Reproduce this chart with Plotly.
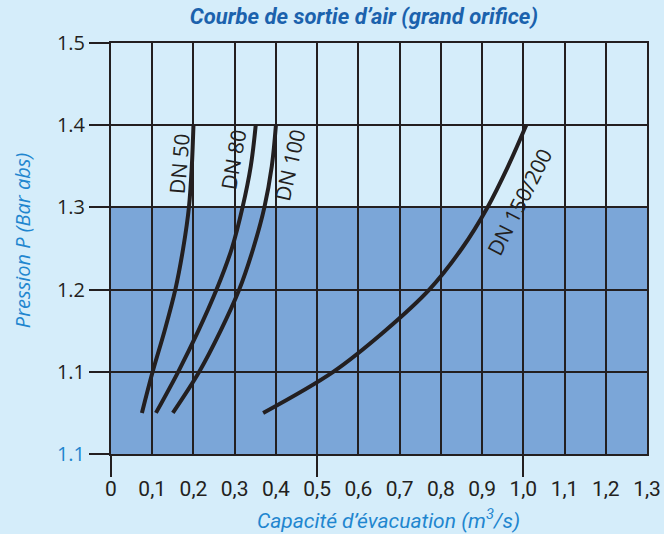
import plotly.graph_objects as go

# ---- data ----
x_ticks = [0, 0.1, 0.2, 0.3, 0.4, 0.5, 0.6, 0.7, 0.8, 0.9, 1.0, 1.1, 1.2, 1.3]
x_ticktext = ["0", "0,1", "0,2", "0,3", "0,4", "0,5", "0,6", "0,7", "0,8", "0,9", "1,0", "1,1", "1,2", "1,3"]
x_major = [0, 0.5, 1.0]
y_ticks = [1.0, 1.1, 1.2, 1.3, 1.4, 1.5]
y_ticktext = ['<span style="color:#1f86cf">1.1</span>', "1.1", "1.2", "1.3", "1.4", "1.5"]

shade_x = [0, 1.3]
shade_y = [1.0, 1.3]

curve_y = [1.05, 1.10, 1.15, 1.20, 1.25, 1.30, 1.35, 1.40]
dn50_x = [0.075, 0.101, 0.130, 0.156, 0.175, 0.189, 0.196, 0.200]
dn80_x = [0.109, 0.163, 0.212, 0.256, 0.293, 0.319, 0.339, 0.351]
dn100_x = [0.150, 0.214, 0.266, 0.311, 0.345, 0.372, 0.390, 0.400]
dn150_x = [0.369, 0.539, 0.665, 0.772, 0.851, 0.913, 0.963, 1.007]

labels = ["DN 50", "DN 80", "DN 100", "DN 150/200"]
label_x = [0.165, 0.296, 0.433, 0.990]
label_y = [1.353, 1.358, 1.352, 1.307]
label_angle = [-85, -80, -77, -63]

LINE = "#231f20"
BG = "#d5edfa"
SHADE = "#7ba6d8"
BLUE = "#1f86cf"

fig = go.Figure()
curves = [dn50_x, dn80_x, dn100_x, dn150_x]
for i, cx in enumerate(curves):
    fig.add_trace(go.Scatter(
        x=cx, y=curve_y, mode="lines",
        line=dict(color=LINE, width=4, shape="spline", smoothing=1.0),
        xaxis="x2" if i == 3 else "x",
        hoverinfo="skip", showlegend=False,
    ))

fig.add_shape(type="rect", xref="x", yref="y",
              x0=shade_x[0], x1=shade_x[1], y0=shade_y[0], y1=shade_y[1],
              fillcolor=SHADE, line=dict(width=0), layer="below")

for t, lx, ly, a in zip(labels, label_x, label_y, label_angle):
    fig.add_annotation(x=lx, y=ly, xref="x", yref="y", text=t, showarrow=False,
                       textangle=a, font=dict(family="Open Sans", size=21, color=LINE))

fig.add_annotation(xref="paper", yref="paper", x=0.517, y=-0.157,
                   xanchor="center", yanchor="middle",
                   text="<i>Capacité d’évacuation (m<sup>3</sup>/s)</i>", showarrow=False,
                   font=dict(family="Roboto", size=21, color=BLUE))
fig.add_annotation(xref="paper", yref="paper", x=-0.166, y=0.518,
                   xanchor="center", yanchor="middle",
                   text="<i>Pression P (Bar abs)</i>", showarrow=False, textangle=-90,
                   font=dict(family="Open Sans", size=20, color=BLUE))

fig.update_layout(
    width=664, height=534,
    margin=dict(l=111, r=17, t=43, b=80),
    paper_bgcolor=BG, plot_bgcolor=BG,
    title=dict(text="<b><i>Courbe de sortie d’air (grand orifice)</i></b>",
               x=0.548, xanchor="center", y=1 - 16 / 534, yanchor="middle",
               automargin=False,
               font=dict(family="Roboto", size=22, color="#1b62ad")),
    xaxis=dict(range=[0, 1.3], tickmode="array", tickvals=x_ticks, ticktext=x_ticktext,
               showgrid=True, gridcolor=LINE, gridwidth=2,
               showline=True, linecolor=LINE, linewidth=2, mirror=True,
               ticks="outside", ticklen=15, tickcolor="rgba(0,0,0,0)",
               tickfont=dict(family="Roboto", size=21, color=LINE),
               zeroline=False, fixedrange=True, automargin=False),
    xaxis2=dict(range=[0, 1.3], overlaying="x", matches="x", side="bottom",
                tickmode="array", tickvals=x_major, showticklabels=False,
                ticks="outside", ticklen=22, tickwidth=2, tickcolor=LINE,
                showgrid=False, zeroline=False, showline=False, automargin=False),
    yaxis=dict(range=[1.0, 1.5], tickmode="array", tickvals=y_ticks, ticktext=y_ticktext,
               showgrid=True, gridcolor=LINE, gridwidth=2,
               showline=True, linecolor=LINE, linewidth=2, mirror=True,
               ticks="outside", ticklen=20, tickwidth=2, tickcolor=LINE,
               tickfont=dict(family="Open Sans", size=20, color=LINE),
               zeroline=False, fixedrange=True, automargin=False),
)

fig.write_html("out.html", config={"displayModeBar": False},
               post_script="document.body.style.margin='0';")
